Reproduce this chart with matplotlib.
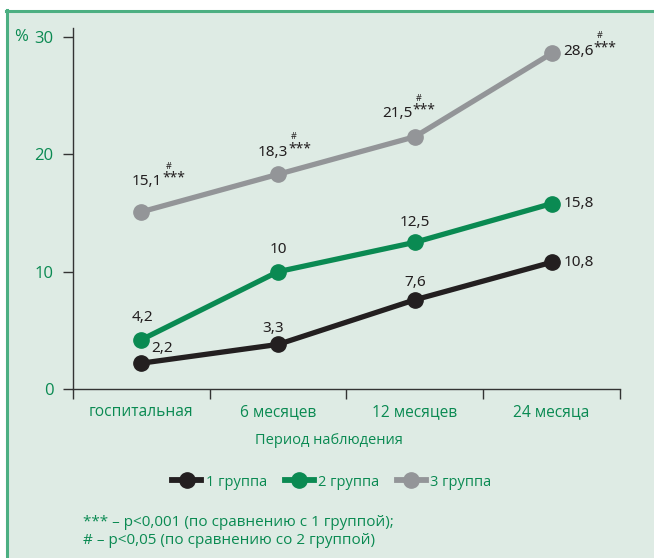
import matplotlib.pyplot as plt
from matplotlib.lines import Line2D
from matplotlib.patches import Rectangle

# data
periods = ['госпитальная', '6 месяцев', '12 месяцев', '24 месяца']
group_names = ['1 группа', '2 группа', '3 группа']
group1 = [2.2, 3.8, 7.6, 10.8]
group2 = [4.2, 10.0, 12.5, 15.8]
group3 = [15.1, 18.3, 21.5, 28.6]
labels1 = ['2,2', '3,3', '7,6', '10,8']
labels2 = ['4,2', '10', '12,5', '15,8']
labels3 = ['15,1', '18,3', '21,5', '28,6']

GREEN = '#0a8a52'
BLACK = '#231f20'
GRAY = '#939598'
BG = '#deebe4'
TXT_FONT = ['Open Sans', 'DejaVu Sans']
NUM_FONT = ['Liberation Sans Narrow', 'Noto Sans', 'DejaVu Sans']

fig = plt.figure(figsize=(6.54, 5.58), dpi=100)
fig.patch.set_facecolor('white')
fig.patches.append(Rectangle((7/654, 0), 1, 1 - 11/558, transform=fig.transFigure,
                             facecolor=BG, edgecolor='none', zorder=-10))
fig.lines.append(Line2D([7/654, 7/654], [0, 1 - 10/558], transform=fig.transFigure,
                        color='#4caf82', lw=2.2, zorder=-5))
fig.lines.append(Line2D([6/654, 1], [1 - 11/558, 1 - 11/558], transform=fig.transFigure,
                        color='#4caf82', lw=2.2, zorder=-5))

ax = fig.add_axes([73/654, 169/558, 547/654, 361/558])
ax.set_facecolor('none')
x = range(len(periods))
ax.plot(x, group1, color=BLACK, lw=3.8, marker='o', ms=11, clip_on=False)
ax.plot(x, group2, color=GREEN, lw=3.8, marker='o', ms=11, clip_on=False)
ax.plot(x, group3, color=GRAY, lw=3.8, marker='o', ms=11, clip_on=False)

ax.set_xlim(-0.5, 3.5)
ax.set_ylim(0, 30 * 361 / 352)
ax.set_yticks([0, 10, 20, 30])
ax.set_xticks(list(x))
ax.set_xticklabels(periods, fontsize=11.2, color=GREEN, family=TXT_FONT)
ax.set_xticks([-0.5, 0.5, 1.5, 2.5, 3.5], minor=True)
ax.tick_params(axis='x', which='major', length=0, pad=11)
ax.tick_params(axis='x', which='minor', length=7, width=1, color='#333333', direction='out')
ax.tick_params(axis='y', length=7.5, width=1, color='#333333', labelsize=12, labelcolor=GREEN, pad=6.5)
for t in ax.get_yticklabels():
    t.set_family(TXT_FONT)
for s in ['top', 'right']:
    ax.spines[s].set_visible(False)
for s in ['left', 'bottom']:
    ax.spines[s].set_color('#333333')
    ax.spines[s].set_linewidth(1)

# value labels (offsets in pixels)
def lab(xi, yi, txt, dx, dy, ha='center'):
    ax.annotate(txt, (xi, yi), xytext=(dx, dy), textcoords='offset pixels',
                ha=ha, va='center', fontsize=11, color=BLACK, family=NUM_FONT)

lab(0, group1[0], labels1[0], 21, 15)
lab(1, group1[1], labels1[1], -5, 16)
lab(2, group1[2], labels1[2], 0, 17)
lab(3, group1[3], labels1[3], 12, 0, ha='left')
lab(0, group2[0], labels2[0], 1, 22)
lab(1, group2[1], labels2[1], 0, 22)
lab(2, group2[2], labels2[2], 0, 20)
lab(3, group2[3], labels2[3], 12, 0, ha='left')

# group 3 labels with significance marks
offs3 = [(21, 30), (10, 22), (-2, 23), (42, 2)]
for i, (dx, dy) in enumerate(offs3):
    ax.annotate(labels3[i], (i, group3[i]), xytext=(dx, dy), textcoords='offset pixels',
                ha='right', va='center', fontsize=11, color=BLACK, family=NUM_FONT)
    ax.annotate('***', (i, group3[i]), xytext=(dx, dy + 11), textcoords='offset pixels',
                ha='left', va='top', fontsize=10, color=BLACK, family=NUM_FONT)
    ax.annotate('#', (i, group3[i]), xytext=(dx + 3, dy + 11), textcoords='offset pixels',
                ha='left', va='bottom', fontsize=6.5, color=BLACK, family=NUM_FONT)

fig.text(14/654, 1 - 37/558, '%', fontsize=12, color=GREEN, family=TXT_FONT, va='center')
fig.text(329/654, 1 - 440/558, 'Период наблюдения', fontsize=10.5, color=GREEN,
         family=TXT_FONT, ha='center', va='center')

handles = [Line2D([], [], color=c, lw=4.2, marker='o', ms=11)
           for c in [BLACK, GREEN, GRAY]]
leg = fig.legend(handles, group_names, loc='center', bbox_to_anchor=(332/654, 1 - 482/558),
                 ncol=3, frameon=False, handlelength=2.0, handletextpad=0.3,
                 columnspacing=1.2, prop={'family': TXT_FONT, 'size': 10.5})
for t in leg.get_texts():
    t.set_color(GREEN)

fig.text(83/654, 1 - 522/558, '*** – p<0,001 (по сравнению с 1 группой);', fontsize=11,
         color=GREEN, family=TXT_FONT, va='center')
fig.text(83/654, 1 - 540/558, '# – p<0,05 (по сравнению со 2 группой)', fontsize=11,
         color=GREEN, family=TXT_FONT, va='center')

fig.savefig('out.png', dpi=100, facecolor=fig.get_facecolor())
